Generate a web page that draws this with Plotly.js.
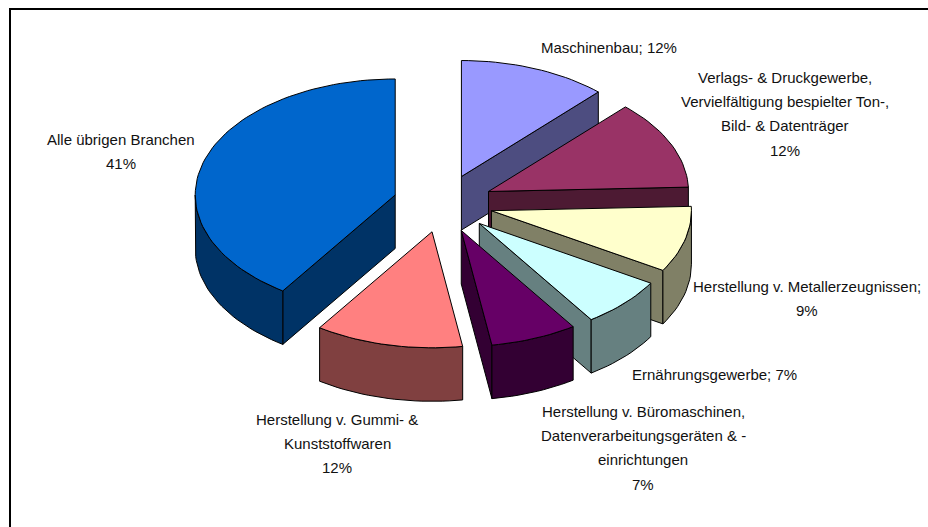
<!DOCTYPE html>
<html>
<head>
<meta charset="utf-8">
<script src="https://cdn.plot.ly/plotly-3.0.1.min.js"></script>
<style>html,body{margin:0;padding:0;background:#fff;overflow:hidden}#chart{width:928px;height:527px}</style>
</head>
<body>
<div id="chart"></div>
<script>
// Data, clockwise from 12 o'clock (labels show the rounded shares)
var categories = ["Maschinenbau", "Verlags- & Druckgewerbe", "Herstellung v. Metallerzeugnissen", "Ernährungsgewerbe", "Herstellung v. Büromaschinen", "Herstellung v. Gummi- & Kunststoffwaren", "Alle übrigen Branchen"];
var shares = [12, 12.4, 9.2, 6.95, 7, 11.95, 40.5];

// Label text, one entry per line
var labelLines = [
  ["Maschinenbau; 12%"],
  ["Verlags- & Druckgewerbe,", "Vervielfältigung bespielter Ton-,", "Bild- & Datenträger", "12%"],
  ["Herstellung v. Metallerzeugnissen;", "9%"],
  ["Ernährungsgewerbe; 7%"],
  ["Herstellung v. Büromaschinen,", "Datenverarbeitungsgeräten & -", "einrichtungen", "7%"],
  ["Herstellung v. Gummi- &", "Kunststoffwaren", "12%"],
  ["Alle übrigen Branchen", "41%"]
];
var labelX = [609, 785, 807, 714, 643, 337, 121];
var labelY = [47, 77, 286, 374, 411, 419, 139];
var lineGap = 24.4;

// Styles
var topColors = ["#9999FF", "#993366", "#FFFFCC", "#CCFFFF", "#660066", "#FF8080", "#0066CC"];
var sideColors = ["#4D4D80", "#4D1A33", "#808066", "#668080", "#330033", "#804040", "#003366"];

// Pie geometry in the pixel-sized data space of the axes
var cx = 443, cy = 203.5, rx = 200, ry = 116, depth = 53.5, pull = 0.25;
var D2R = Math.PI / 180;

function arc(ox, oy, a0, a1) {
  var n = Math.max(2, Math.ceil(Math.abs(a1 - a0) / 2)), xs = [], ys = [];
  for (var i = 0; i <= n; i++) {
    var a = (a0 + (a1 - a0) * i / n) * D2R;
    xs.push(ox + rx * Math.sin(a));
    ys.push(oy - ry * Math.cos(a));
  }
  return {x: xs, y: ys};
}
function poly(xs, ys, color, name) {
  return {
    type: "scatter", mode: "lines", x: xs, y: ys, fill: "toself", fillcolor: color,
    line: {color: "#000000", width: 1}, name: name, hoverinfo: "name", showlegend: false
  };
}

var traces = [], cum = 0;
shares.forEach(function (v, i) {
  var a0 = cum * 3.6, a1 = (cum + v) * 3.6, mid = (a0 + a1) / 2 * D2R;
  cum += v;
  var ox = cx + pull * rx * Math.sin(mid), oy = cy - pull * ry * Math.cos(mid);
  var name = categories[i] + ": " + v + "%";
  // radial faces
  [[a1, Math.sin(a1 * D2R) > 0.001], [a0, Math.sin(a0 * D2R) < -0.001]].forEach(function (f) {
    if (!f[1]) return;
    var e = arc(ox, oy, f[0], f[0]);
    var ex = e.x[0], ey = e.y[0];
    traces.push(poly([ox, ex, ex, ox, ox], [oy, ey, ey + depth, oy + depth, oy], sideColors[i], name));
  });
  // outer wall, front half only
  var w0 = Math.max(a0, 90), w1 = Math.min(a1, 270);
  if (w1 > w0) {
    var top = arc(ox, oy, w0, w1);
    var xs = top.x.concat(top.x.slice().reverse(), [top.x[0]]);
    var ys = top.y.concat(top.y.slice().reverse().map(function (y) { return y + depth; }), [top.y[0]]);
    traces.push(poly(xs, ys, sideColors[i], name));
  }
  // top surface
  var t = arc(ox, oy, a0, a1);
  traces.push(poly([ox].concat(t.x, [ox]), [oy].concat(t.y, [oy]), topColors[i], name));
});

var annotations = [];
labelLines.forEach(function (lines, i) {
  lines.forEach(function (txt, j) {
    annotations.push({
      x: labelX[i], y: labelY[i] + j * lineGap, xref: "x", yref: "y", text: txt,
      showarrow: false, xanchor: "center", yanchor: "middle",
      font: {family: "'Liberation Sans',Arial,sans-serif", size: 15, color: "#111111"}
    });
  });
});

var layout = {
  width: 928, height: 527, margin: {l: 0, r: 0, t: 0, b: 0},
  paper_bgcolor: "#ffffff", plot_bgcolor: "#ffffff", showlegend: false,
  xaxis: {range: [0, 928], visible: false, fixedrange: true},
  yaxis: {range: [527, 0], visible: false, fixedrange: true},
  annotations: annotations,
  shapes: [
    {type: "line", xref: "x", yref: "y", x0: 10, y0: 9, x1: 928, y1: 9, line: {color: "#000", width: 2}},
    {type: "line", xref: "x", yref: "y", x0: 10, y0: 8, x1: 10, y1: 527, line: {color: "#000", width: 2}}
  ]
};
Plotly.newPlot("chart", traces, layout, {displayModeBar: false});
</script>
</body>
</html>
